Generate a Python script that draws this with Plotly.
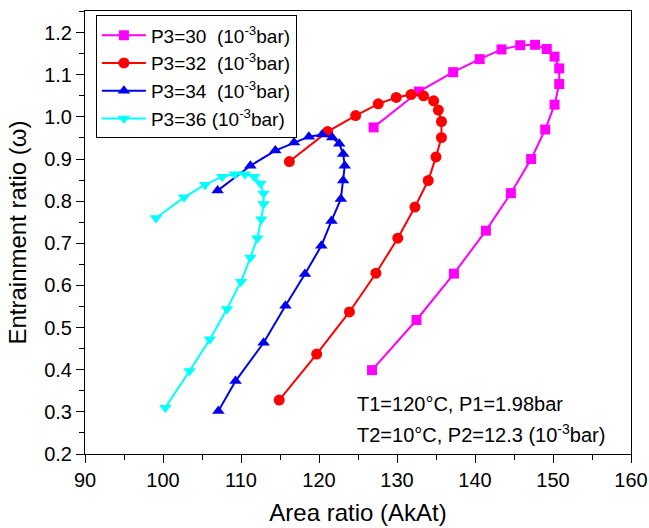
import plotly.graph_objects as go

# P3 = 30 (10^-3 bar)
x30 = [127.0, 132.8, 137.2, 140.6, 143.4, 145.8, 147.7, 149.2, 150.2, 150.8, 150.8, 150.2, 149.0, 147.2, 144.6, 141.4, 137.3, 132.5, 126.8]
y30 = [0.975, 1.060, 1.106, 1.137, 1.160, 1.170, 1.171, 1.161, 1.143, 1.115, 1.078, 1.029, 0.970, 0.900, 0.819, 0.730, 0.628, 0.518, 0.399]
# P3 = 32
x32 = [116.2, 121.1, 124.7, 127.6, 129.9, 131.8, 133.4, 134.7, 135.3, 135.7, 135.7, 135.0, 134.0, 132.3, 130.1, 127.3, 123.9, 119.7, 114.9]
y32 = [0.894, 0.965, 1.003, 1.031, 1.046, 1.053, 1.050, 1.038, 1.016, 0.989, 0.951, 0.905, 0.849, 0.786, 0.712, 0.629, 0.537, 0.437, 0.328]
# P3 = 34
x34 = [107.0, 111.2, 114.4, 116.8, 118.7, 120.4, 121.7, 122.6, 123.1, 123.3, 123.1, 122.8, 121.6, 120.3, 118.2, 115.7, 112.9, 109.3, 107.1]
y34 = [0.825, 0.884, 0.920, 0.939, 0.953, 0.958, 0.951, 0.936, 0.912, 0.884, 0.849, 0.805, 0.753, 0.694, 0.627, 0.552, 0.464, 0.373, 0.302]
# P3 = 36
x36 = [99.1, 102.7, 105.4, 107.6, 109.2, 110.5, 111.7, 112.5, 112.9, 112.9, 112.6, 112.1, 111.2, 110.0, 108.2, 106.0, 103.4, 100.3]
y36 = [0.760, 0.809, 0.839, 0.858, 0.864, 0.864, 0.858, 0.842, 0.818, 0.793, 0.757, 0.712, 0.666, 0.609, 0.544, 0.472, 0.397, 0.310]

names = ["P3=30  (10<sup>-3</sup>bar)", "P3=32  (10<sup>-3</sup>bar)",
         "P3=34  (10<sup>-3</sup>bar)", "P3=36 (10<sup>-3</sup>bar)"]
colors = ["#ff00ff", "#ff0000", "#0000ee", "#00ffff"]
symbols = ["square", "circle", "triangle-up", "triangle-down"]
sizes = [10, 11, 11, 11]
xs = [x30, x32, x34, x36]
ys = [y30, y32, y34, y36]

fig = go.Figure()
for x, y, n, c, s, sz in zip(xs, ys, names, colors, symbols, sizes):
    fig.add_trace(go.Scatter(x=x, y=y, name=n, mode="lines+markers",
                             line=dict(color=c, width=2),
                             marker=dict(color=c, symbol=s, size=sz)))

font = dict(family="Liberation Sans, Arial, sans-serif", size=20, color="black")
fig.update_layout(
    width=649, height=528,
    margin=dict(l=85, r=18, t=11, b=74),
    paper_bgcolor="white", plot_bgcolor="white",
    font=font,
    legend=dict(x=0.02, y=0.99, xanchor="left", yanchor="top",
                bordercolor="black", borderwidth=1, bgcolor="white",
                font=dict(size=19), tracegroupgap=0, itemwidth=44),
    annotations=[
        dict(xref="paper", yref="paper", x=0.495, y=0.113, xanchor="left", yanchor="middle",
             text="T1=120°C, P1=1.98bar", showarrow=False, font=font),
        dict(xref="paper", yref="paper", x=0.495, y=0.046, xanchor="left", yanchor="middle",
             text="T2=10°C, P2=12.3 (10<sup>-3</sup>bar)", showarrow=False, font=font),
    ],
)
fig.update_xaxes(range=[90, 160], dtick=10, tick0=90, showgrid=False, zeroline=False,
                 showline=True, linecolor="black", linewidth=1, mirror=True,
                 ticks="outside", ticklen=8, tickcolor="black", automargin=False,
                 minor=dict(dtick=5, ticks="outside", ticklen=5, tickcolor="black"),
                 title=dict(text="Area ratio (AkAt)", standoff=14))
fig.update_yaxes(range=[0.2, 1.2512], dtick=0.1, tick0=0.2, tickformat=".1f",
                 showgrid=False, zeroline=False,
                 showline=True, linecolor="black", linewidth=1, mirror=True,
                 ticks="outside", ticklen=8, tickcolor="black", automargin=False,
                 minor=dict(dtick=0.05, ticks="outside", ticklen=5, tickcolor="black"),
                 title=dict(text="Entrainment ratio (ω)", standoff=10))
fig.write_html("out.html", config={"displayModeBar": False},
               post_script="document.body.style.margin='0';")
